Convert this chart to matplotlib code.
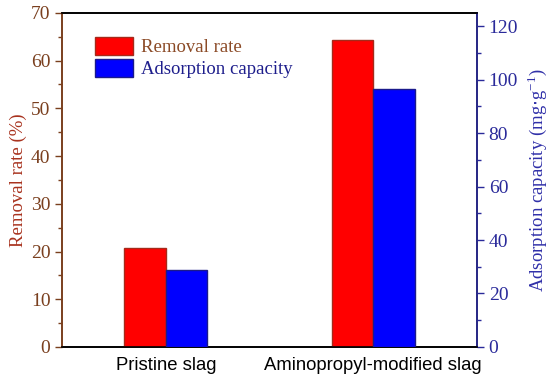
import matplotlib.pyplot as plt
import numpy as np
from matplotlib.ticker import MultipleLocator

# data
categories = ['Pristine slag', 'Aminopropyl-modified slag']
removal_rate = [20.7, 64.3]          # %
adsorption_capacity = [28.8, 96.4]   # mg/g

serif = ['Liberation Serif', 'DejaVu Serif']
sans = ['Liberation Sans', 'DejaVu Sans']

left_col = '#7A3F1E'
left_lab = '#A8321E'
right_col = '#2A2A9A'
right_lab = '#2F2FA8'

x = np.arange(len(categories))
w = 0.2

fig, ax = plt.subplots(figsize=(5.5, 3.8), dpi=100)
fig.subplots_adjust(left=0.113, right=0.867, top=0.966, bottom=0.087)
ax2 = ax.twinx()

b1 = ax.bar(x - w / 2, removal_rate, width=w, color='#FF0000',
            edgecolor='#A52A1A', linewidth=1.0, label='Removal rate', zorder=3)
b2 = ax2.bar(x + w / 2, adsorption_capacity, width=w, color='#0000FF',
             edgecolor='#1A1A8C', linewidth=1.0, label='Adsorption capacity', zorder=3)

ax.set_xlim(-0.5, 1.5)
ax.set_ylim(0, 70)
ax2.set_ylim(0, 125)

ax.set_xticks(x)
ax.set_xticklabels(categories, family=sans, fontsize=13.3)
ax.tick_params(axis='x', length=0, pad=7)

ax.yaxis.set_major_locator(MultipleLocator(10))
ax.yaxis.set_minor_locator(MultipleLocator(5))
ax2.yaxis.set_major_locator(MultipleLocator(20))
ax2.yaxis.set_minor_locator(MultipleLocator(10))

ax.tick_params(axis='y', which='major', direction='out', length=5, width=1,
               colors=left_col, labelsize=14)
ax.tick_params(axis='y', which='minor', direction='out', length=3, width=1,
               colors=left_col)
ax2.tick_params(axis='y', which='major', direction='out', length=5, width=1,
                colors=right_col, labelsize=14)
ax2.tick_params(axis='y', which='minor', direction='out', length=3, width=1,
                colors=right_col)
for lab in ax.get_yticklabels() + ax2.get_yticklabels():
    lab.set_family(serif)

ax.spines['left'].set_color(left_col)
ax2.spines['left'].set_color(left_col)
ax2.spines['right'].set_color(right_col)
for s in ['left', 'right', 'top', 'bottom']:
    ax.spines[s].set_linewidth(1.2)
    ax2.spines[s].set_linewidth(1.2)

ax.set_ylabel('Removal rate (%)', family=serif, fontsize=13.5, color=left_lab, labelpad=3)
ax2.set_ylabel(r'Adsorption capacity (mg$\cdot$g$^{\mathregular{-1}}$)', family=serif,
               fontsize=13.5, color=right_lab, labelpad=5)

leg = ax.legend([b1, b2], ['Removal rate', 'Adsorption capacity'],
                loc='upper left', bbox_to_anchor=(0.062, 0.95), frameon=False,
                prop={'family': serif, 'size': 13.5}, handlelength=2.0,
                handleheight=1.1, handletextpad=0.45, labelspacing=0.12,
                borderaxespad=0)
leg.get_texts()[0].set_color('#8B4A26')
leg.get_texts()[1].set_color('#1E1E8C')

fig.savefig('out.png', dpi=100)
